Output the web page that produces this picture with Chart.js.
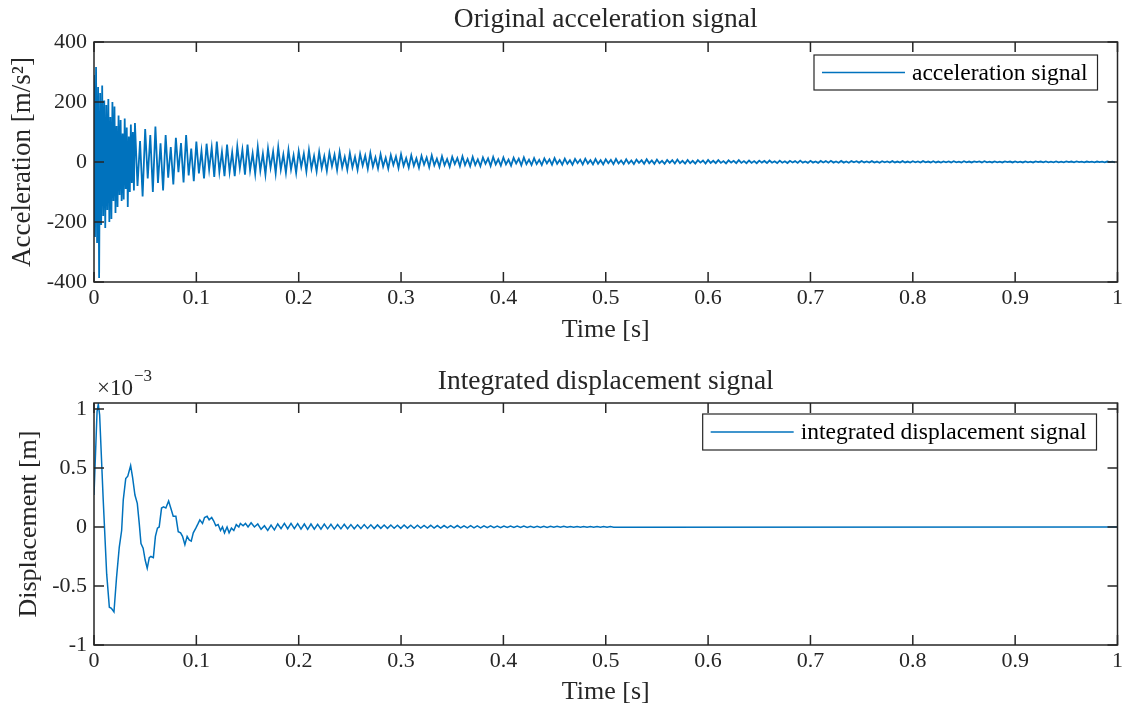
<!DOCTYPE html>
<html>
<head>
<meta charset="utf-8">
<title>Acceleration and integrated displacement</title>
<script src="https://cdn.jsdelivr.net/npm/chart.js@4.4.1/dist/chart.umd.min.js"></script>
<style>
  html, body { margin: 0; padding: 0; background: #fff; }
  #wrap { position: relative; width: 1126px; height: 709px; }
  canvas { position: absolute; left: 0; }
  #accChart { top: 0; }
  #dispChart { top: 355px; }
</style>
</head>
<body>
<div id="wrap">
  <canvas id="accChart" width="1126" height="355"></canvas>
  <canvas id="dispChart" width="1126" height="354"></canvas>
</div>
<script>
// Time axis [s]
const timeTicks = [0, 0.1, 0.2, 0.3, 0.4, 0.5, 0.6, 0.7, 0.8, 0.9, 1];
const timeTickLabels = ['0', '0.1', '0.2', '0.3', '0.4', '0.5', '0.6', '0.7', '0.8', '0.9', '1'];

// Acceleration [m/s^2]
const accTicks = [-400, -200, 0, 200, 400];
const accTickLabels = ['-400', '-200', '0', '200', '400'];

// impact burst, first 40 ms at 1 ms
const accBurstStep = 0.001;
const accBurst = [
  290, -250, 317, -270, 250, -387, 230, -210, 255, -180,
  205, -220, 190, -160, 210, -200, 150, -190, 200, -130,
  185, -170, 120, -150, 155, -110, 140, -130, 95, -125,
  145, -90, 115, -150, 85, -100, 125, -70, 100, -95
];

// ring-down after the burst, extremes every 2.5 ms (one row = 30 ms)
const accDecayStart = 0.04;
const accDecayStep = 0.0025;
const accDecay = [
  130, -80, 70, -115, 110, -55, 90, -100, 118, -70, 62, -95,
  90, -52, 50, -75, 81, -34, 63, -68, 90, -45, 45, -64,
  68, -38, 37, -55, 61, -25, 48, -50, 68, -33, 34, -47,
  58, -33, 32, -47, 52, -21, 41, -42, 58, -28, 29, -40,
  50, -29, 28, -42, 45, -19, 35, -38, 50, -25, 25, -36,
  40, -25, 22, -36, 36, -16, 28, -32, 40, -22, 20, -31,
  34, -21, 19, -30, 31, -14, 24, -27, 34, -18, 17, -26,
  30, -18, 17, -26, 27, -12, 21, -23, 30, -16, 15, -22,
  26, -15, 14, -22, 23, -10, 18, -20, 26, -13, 13, -19,
  22, -13, 12, -19, 20, -9, 15, -17, 22, -11, 11, -16,
  19, -11, 10, -16, 17, -7, 13, -14, 19, -10, 10, -14,
  17, -10, 9, -14, 15, -6, 12, -13, 17, -8, 9, -12,
  15, -8, 8, -12, 14, -5, 11, -11, 15, -7, 8, -10,
  13, -7, 7, -10, 12, -5, 9, -9, 13, -6, 7, -9,
  11, -6, 6, -9, 10, -4, 8, -8, 11, -5, 6, -8,
  10, -6, 6, -8, 9, -4, 7, -7, 10, -5, 5, -7,
  9, -5, 5, -7, 8, -3, 6, -6, 9, -4, 5, -6,
  8, -4, 4, -6, 7, -3, 6, -5, 8, -4, 4, -5,
  7, -4, 4, -5, 6, -2, 5, -5, 7, -3, 4, -4,
  6, -3, 3, -4.5, 5.5, -2, 4, -4, 6, -3, 3, -4,
  5, -3, 3, -4, 4.5, -2, 3.5, -3.5, 5, -2.5, 2.5, -3.5,
  4.5, -2.5, 2.5, -3.5, 4, -1.5, 3, -3, 4.5, -2, 2, -3,
  4, -2, 2, -3, 3.5, -1.5, 3, -2.5, 4, -2, 2, -2.5,
  3.5, -2, 2, -2.5, 3, -1, 2.5, -2, 3.5, -1.5, 2, -2,
  3, -2, 1.5, -2.5, 2.5, -1, 2, -2, 3, -1.5, 1.5, -2,
  3, -1.5, 1.5, -2, 2.5, -1, 2, -2, 3, -1, 1.5, -1.5,
  2.5, -1.5, 1.5, -2, 2, -1, 2, -1.5, 2.5, -1, 1, -1.5,
  2.5, -1, 1.5, -1.5, 2, -0.5, 2, -1.5, 2.5, -1, 1, -1.5,
  2, -1, 1, -1.5, 2, -0.5, 1.5, -1.5, 2, -1, 1, -1.5,
  2, -1, 1, -1.5, 2, -0.5, 1.5, -1, 2, -1, 1, -1,
  2, -1, 1, -1, 2, -0.5, 1.5, -1, 2, -0.5, 1, -1,
  1.5, -0.5, 1, -1, 1.5, -0.5, 1, -1, 1.5, -0.5, 1, -1
];

// Displacement [x 1e-3 m]
const dispTicks = [-1, -0.5, 0, 0.5, 1];
const dispTickLabels = ['-1', '-0.5', '0', '0.5', '1'];

const dispTime = [
  0, 0.003, 0.0042, 0.0055, 0.009, 0.0124, 0.015, 0.017, 0.0195, 0.022,
  0.0247, 0.027, 0.0286, 0.031, 0.033, 0.0358, 0.0377, 0.040, 0.0423, 0.0442,
  0.0459, 0.048, 0.050, 0.052, 0.054, 0.0556, 0.058, 0.060, 0.062, 0.0637,
  0.066, 0.068, 0.0702, 0.0729, 0.075, 0.0774, 0.080, 0.0823, 0.0846, 0.0865,
  0.0888, 0.091, 0.093, 0.095, 0.097, 0.0995, 0.1018, 0.1034, 0.106, 0.108,
  0.1105, 0.1125, 0.115, 0.117, 0.119, 0.1213, 0.1236, 0.1255, 0.1275, 0.130,
  0.132, 0.1343, 0.1366, 0.139, 0.1415, 0.143, 0.1457, 0.148, 0.1505
];
const dispValue = [
  0.27, 0.98, 1.04, 0.95, 0.23, -0.4, -0.68, -0.69, -0.72, -0.43,
  -0.17, -0.03, 0.23, 0.41, 0.43, 0.52, 0.42, 0.27, 0.2, 0.03,
  -0.14, -0.18, -0.28, -0.35, -0.26, -0.25, -0.26, -0.08, -0.01, 0,
  0.16, 0.17, 0.16, 0.22, 0.16, 0.09, 0.09, -0.04, -0.05, -0.08,
  -0.15, -0.08, -0.11, -0.12, -0.05, -0.01, 0.03, 0.06, 0.03, 0.08,
  0.09, 0.06, 0.08, 0.05, 0.01, 0.02, -0.03, 0, -0.05, 0,
  -0.05, -0.01, -0.03, 0.02, 0, 0.03, 0.01, 0.03, 0
];

// small residual ripple, one value per half period
const dispTailStart = 0.1535;
const dispTailStep = 0.00325;
const dispTail = [
  0.035, 0.0, 0.025, -0.02, 0.01, -0.03, 0.015, -0.025, 0.025, -0.015,
  0.03, -0.015, 0.03, -0.015, 0.028, -0.018, 0.025, -0.02, 0.025, -0.018,
  0.022, -0.018, 0.024, -0.016, 0.022, -0.018, 0.02, -0.016, 0.022, -0.015,
  0.02, -0.015, 0.018, -0.014, 0.02, -0.013, 0.018, -0.014, 0.017, -0.012,
  0.016, -0.012, 0.017, -0.011, 0.015, -0.012, 0.016, -0.01, 0.014, -0.011,
  0.014, -0.01, 0.013, -0.009, 0.014, -0.01, 0.012, -0.009, 0.012, -0.008,
  0.011, -0.008, 0.012, -0.008, 0.01, -0.007, 0.011, -0.007, 0.01, -0.007,
  0.009, -0.006, 0.009, -0.006, 0.008, -0.006, 0.008, -0.005, 0.008, -0.005,
  0.007, -0.005, 0.007, -0.004, 0.006, -0.004, 0.006, -0.004, 0.006, -0.004,
  0.005, -0.003, 0.005, -0.003, 0.005, -0.003, 0.004, -0.003, 0.004, -0.002,
  0.004, -0.002, 0.003, -0.002, 0.003, -0.002, 0.003, -0.002, 0.003, -0.002
];
const dispRestTime = 1;
const dispRestValue = 0;

const FONT = '"Liberation Serif", "Times New Roman", serif';
const INK = '#262626';
const LINE_BLUE = '#0072BD';
const TICK_LEN = 10;

const accPoints = accBurst.map((y, i) => ({ x: i * accBurstStep, y }))
  .concat(accDecay.map((y, i) => ({ x: accDecayStart + i * accDecayStep, y })));

const dispPoints = dispTime.map((t, i) => ({ x: t, y: dispValue[i] }))
  .concat(dispTail.map((y, i) => ({ x: dispTailStart + i * dispTailStep, y })))
  .concat([{ x: dispRestTime, y: dispRestValue }]);

// box, inward ticks, legend and exponent label
const matlabAxes = {
  id: 'matlabAxes',
  afterDatasetsDraw(chart, args, opts) {
    const { ctx, chartArea: a, scales } = chart;
    ctx.save();
    ctx.strokeStyle = INK;
    ctx.lineWidth = 1.5;

    ctx.beginPath();
    scales.x.ticks.forEach(t => {
      const px = scales.x.getPixelForValue(t.value);
      ctx.moveTo(px, a.bottom); ctx.lineTo(px, a.bottom - TICK_LEN);
      ctx.moveTo(px, a.top); ctx.lineTo(px, a.top + TICK_LEN);
    });
    scales.y.ticks.forEach(t => {
      const py = scales.y.getPixelForValue(t.value);
      ctx.moveTo(a.left, py); ctx.lineTo(a.left + TICK_LEN, py);
      ctx.moveTo(a.right, py); ctx.lineTo(a.right - TICK_LEN, py);
    });
    ctx.stroke();
    ctx.strokeRect(a.left, a.top, a.right - a.left, a.bottom - a.top);

    // legend box in the upper right corner
    const ds = chart.data.datasets[0];
    const lg = opts.legend;
    ctx.font = lg.size + 'px ' + FONT;
    const textW = ctx.measureText(ds.label).width;
    const w = 8 + 83 + 7 + textW + 10;
    const h = lg.height;
    const right = a.right - lg.right;
    const left = right - w;
    const top = a.top + lg.top;
    ctx.fillStyle = '#fff';
    ctx.fillRect(left, top, w, h);
    ctx.lineWidth = 1.2;
    ctx.strokeStyle = INK;
    ctx.strokeRect(left, top, w, h);
    ctx.beginPath();
    ctx.strokeStyle = ds.borderColor;
    ctx.lineWidth = 1.4;
    ctx.moveTo(left + 8, top + h / 2);
    ctx.lineTo(left + 91, top + h / 2);
    ctx.stroke();
    ctx.fillStyle = '#000';
    ctx.textBaseline = 'middle';
    ctx.textAlign = 'left';
    ctx.fillText(ds.label, left + 98, top + h / 2 + 1);

    if (opts.exponent) {
      ctx.fillStyle = INK;
      ctx.font = '23px ' + FONT;
      ctx.fillText('\u00d710', a.left + 3, a.top - 14);
      const bw = ctx.measureText('\u00d710').width;
      ctx.font = '17px ' + FONT;
      ctx.fillText(opts.exponent, a.left + 4 + bw, a.top - 26);
    }
    ctx.restore();
  }
};

function timeScale(height, titlePadBottom) {
  return {
    type: 'linear',
    min: 0,
    max: 1,
    afterBuildTicks: s => { s.ticks = timeTicks.map(v => ({ value: v })); },
    afterFit: s => { s.height = height; },
    grid: { display: false, drawTicks: false },
    border: { display: false },
    ticks: {
      padding: 3,
      color: INK,
      autoSkip: false,
      maxRotation: 0,
      font: { family: FONT, size: 22 },
      callback: (v, i) => timeTickLabels[i]
    },
    title: {
      display: true,
      text: 'Time [s]',
      color: INK,
      font: { family: FONT, size: 26 },
      padding: { top: 0, bottom: titlePadBottom }
    }
  };
}

function valueScale(cfg) {
  return {
    min: cfg.yMin,
    max: cfg.yMax,
    afterBuildTicks: s => { s.ticks = cfg.yTicks.map(v => ({ value: v })); },
    afterFit: s => { s.width = 94; },
    grid: { display: false, drawTicks: false },
    border: { display: false },
    ticks: {
      padding: 7,
      color: INK,
      font: { family: FONT, size: 22 },
      callback: (v, i) => cfg.yLabels[i]
    },
    title: {
      display: true,
      text: cfg.yTitle,
      color: INK,
      font: { family: FONT, size: cfg.yTitleSize },
      padding: { top: cfg.yTitlePad, bottom: 0 }
    }
  };
}

function makeChart(id, cfg) {
  return new Chart(document.getElementById(id), {
    type: 'line',
    data: {
      datasets: [{
        label: cfg.label,
        data: cfg.points,
        borderColor: LINE_BLUE,
        borderWidth: cfg.lineWidth,
        pointRadius: 0,
        tension: 0,
        fill: false
      }]
    },
    options: {
      responsive: false,
      devicePixelRatio: 1,
      animation: false,
      events: [],
      layout: { padding: { left: 0, right: 7, top: 0, bottom: 0 } },
      plugins: {
        legend: { display: false },
        tooltip: { enabled: false },
        title: {
          display: true,
          text: cfg.title,
          color: INK,
          fullSize: false,
          font: { family: FONT, size: 27.5, weight: 'normal' },
          padding: cfg.titlePad
        },
        matlabAxes: { legend: cfg.legend, exponent: cfg.exponent }
      },
      scales: {
        x: timeScale(cfg.xHeight, cfg.xTitlePad),
        y: valueScale(cfg)
      }
    },
    plugins: [matlabAxes]
  });
}

makeChart('accChart', {
  label: 'acceleration signal',
  points: accPoints,
  lineWidth: 1.8,
  title: 'Original acceleration signal',
  titlePad: { top: 3.5, bottom: 5.5 },
  xHeight: 73,
  xTitlePad: 9.4,
  yMin: -400,
  yMax: 400,
  yTicks: accTicks,
  yLabels: accTickLabels,
  yTitle: 'Acceleration [m/s\u00b2]',
  yTitleSize: 27,
  yTitlePad: 7,
  legend: { size: 23.5, right: 20, top: 13, height: 35 },
  exponent: null
});

makeChart('dispChart', {
  label: 'integrated displacement signal',
  points: dispPoints,
  lineWidth: 1.5,
  title: 'Integrated displacement signal',
  titlePad: { top: 10.5, bottom: 4.5 },
  xHeight: 64,
  xTitlePad: 1.4,
  yMin: -1,
  yMax: 1.05,
  yTicks: dispTicks,
  yLabels: dispTickLabels,
  yTitle: 'Displacement [m]',
  yTitleSize: 26,
  yTitlePad: 14,
  legend: { size: 23.5, right: 21, top: 11, height: 36 },
  exponent: '\u22123'
});
</script>
</body>
</html>
